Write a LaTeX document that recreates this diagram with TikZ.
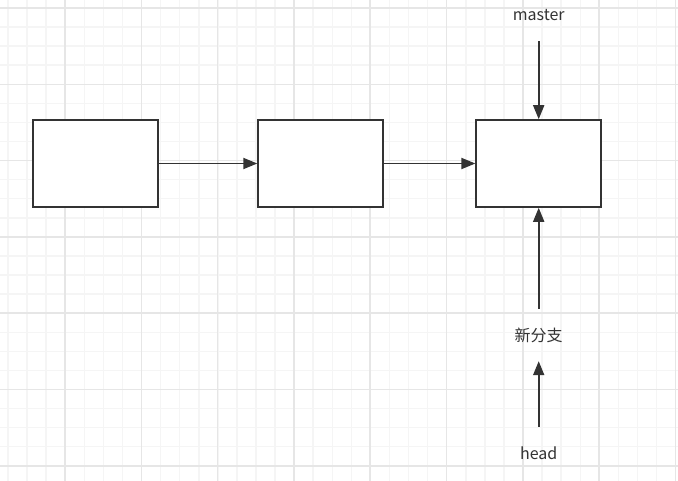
\documentclass[tikz,border=0pt]{standalone}
\usepackage{fontspec}
\setmainfont{Noto Sans CJK SC}
\usetikzlibrary{positioning,arrows.meta}
\definecolor{gridmajor}{RGB}{230,230,230}
\definecolor{gridminor}{RGB}{245,245,245}
\definecolor{linedark}{RGB}{51,51,51}
\tikzset{
  commit/.style={draw=linedark, line width=1.6pt, fill=white,
                 minimum width=125pt, minimum height=87pt, inner sep=0pt},
  tagtext/.style={font=\fontsize{16}{19}\selectfont, text=linedark,
                  minimum height=52pt, inner sep=0pt},
  arrow/.style={-{Triangle[length=14pt,width=11pt]}, line width=1.8pt, draw=linedark},
  minorline/.style={gridminor, line width=1.5pt},
  majorline/.style={gridmajor, line width=1.5pt},
}

\begin{document}
\begin{tikzpicture}[x=1pt, y=-1pt]
  \useasboundingbox (0,0) rectangle (678,481);
  \fill[white] (0,0) rectangle (678,481);
  % background grid
  \foreach \i in {-1,...,35}
    \draw[minorline] ({8+19.075*\i},0) -- ({8+19.075*\i},481);
  \foreach \i in {0,...,25}
    \draw[minorline] (0,{8+19.075*\i}) -- (678,{8+19.075*\i});
  \foreach \k in {-1,...,8}
    \draw[majorline] ({65+76.3*\k},0) -- ({65+76.3*\k},481);
  \foreach \k in {0,...,6}
    \draw[majorline] (0,{8+76.3*\k}) -- (678,{8+76.3*\k});

  % commits
  \node[commit]                      (c1) at (95.5,163.5) {};
  \node[commit, right=98.5pt of c1]  (c2) {};
  \node[commit, right=91.5pt of c2]  (c3) {};

  % pointers
  \node[tagtext] (master) at (c3 |- 0,15)  {master};
  \node[tagtext] (branch) at (c3 |- 0,335) {新分支};
  \node[tagtext] (head)   at (c3 |- 0,453) {head};

  \draw[arrow] (c1) -- (c2);
  \draw[arrow] (c2) -- (c3);
  \draw[arrow] (master) -- (c3);
  \draw[arrow] (branch) -- (c3);
  \draw[arrow] (head) -- (branch);
\end{tikzpicture}
\end{document}
